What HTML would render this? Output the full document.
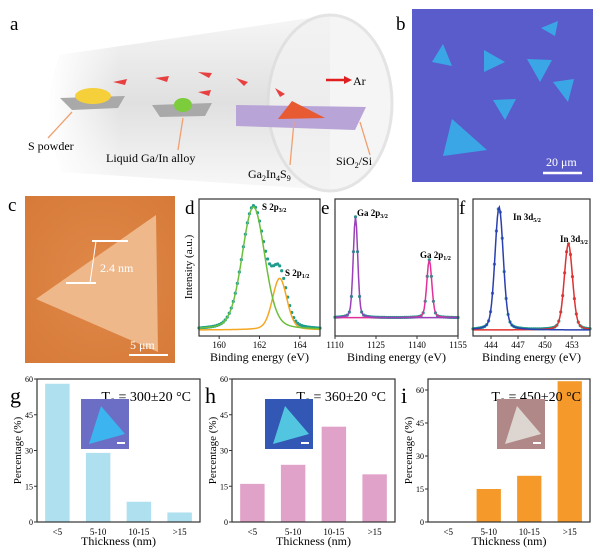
<!DOCTYPE html>
<html><head><meta charset="utf-8"><style>
html,body{margin:0;padding:0;background:#fff}
svg{display:block;font-family:"Liberation Serif",serif}
</style></head><body>
<svg id="fig" width="600" height="552" viewBox="0 0 600 552" xmlns="http://www.w3.org/2000/svg">
<defs>
<linearGradient id="tube" x1="0" y1="0" x2="0" y2="1">
<stop offset="0" stop-color="#f6f6f6"/><stop offset="0.5" stop-color="#e0e0e0"/><stop offset="1" stop-color="#f8f8f8"/></linearGradient>
<linearGradient id="tubeh" x1="0" y1="0" x2="1" y2="0">
<stop offset="0" stop-color="#fff" stop-opacity="1"/><stop offset="0.25" stop-color="#fff" stop-opacity="0"/></linearGradient>
<radialGradient id="afm" cx="0.5" cy="0.5" r="0.7"><stop offset="0" stop-color="#e0894a"/><stop offset="1" stop-color="#d67a38"/></radialGradient>
</defs>
<!-- Panel a -->
<g>
<text x="10" y="30" font-size="19">a</text>
<path d="M60,55 Q40,110 62,172 L330,190 L330,15 Z" fill="url(#tube)"/>
<path d="M60,55 Q40,110 62,172 L330,190 L330,15 Z" fill="url(#tubeh)"/>
<ellipse cx="330" cy="103" rx="62" ry="88" fill="#f2f2f2" stroke="#dcdcdc" stroke-width="3" opacity="0.75"/>
<path d="M60,98 L125,96 L118,108 L72,110 Z" fill="#a9a9a9"/>
<ellipse cx="93" cy="96" rx="18" ry="8" fill="#f5d03a"/>
<path d="M152,105 L212,103 L205,116 L160,117 Z" fill="#a9a9a9"/>
<ellipse cx="183" cy="105" rx="9" ry="7" fill="#7ccc3c"/>
<path d="M236,105 L366,107 L355,130 L236,126 Z" fill="#b8a4d6"/>
<path d="M278,119 L292,101 L325,118 Z" fill="#e85a32"/>
<g fill="#e84040">
<path d="M113,82 l14,-3 l-2,6 z"/><path d="M155,78 l14,-2 l-2,6 z"/><path d="M198,72 l14,1 l-3,5 z"/><path d="M236,78 l12,4 l-4,4 z"/><path d="M198,92 l13,-2 l-2,6 z"/><path d="M275,88 l10,6 l-5,3 z"/></g>
<line x1="326" y1="80" x2="346" y2="80" stroke="#e02020" stroke-width="2.5"/>
<path d="M344,76 l8,4 l-8,4 z" fill="#e02020"/>
<text x="353" y="85" font-size="12">Ar</text>
<g stroke="#f0a070" stroke-width="1.3">
<line x1="72" y1="112" x2="48" y2="138"/><line x1="183" y1="118" x2="178" y2="150"/><line x1="294" y1="122" x2="290" y2="165"/><line x1="360" y1="122" x2="370" y2="155"/></g>
<text x="28" y="150" font-size="12">S powder</text>
<text x="106" y="162" font-size="12">Liquid Ga/In alloy</text>
<text x="248" y="178" font-size="12">Ga<tspan font-size="8" dy="3">2</tspan><tspan dy="-3">In</tspan><tspan font-size="8" dy="3">4</tspan><tspan dy="-3">S</tspan><tspan font-size="8" dy="3">9</tspan></text>
<text x="336" y="165" font-size="12">SiO<tspan font-size="8" dy="3">2</tspan><tspan dy="-3">/Si</tspan></text>
</g>
<!-- Panel b -->
<g>
<rect x="412" y="9" width="181" height="173" fill="#5a5ccb"/>
<text x="396" y="30" font-size="19">b</text>
<g fill="#3ba6e6">
<path d="M432,62 L443,44 L452,66 Z"/><path d="M484,50 L505,62 L484,72 Z"/><path d="M527,59 L552,60 L540,82 Z"/><path d="M553,82 L574,79 L568,102 Z"/><path d="M493,100 L516,99 L505,120 Z"/><path d="M443,156 L452,119 L487,150 Z"/><path d="M541,28 L558,21 L555,36 Z"/></g>
<line x1="543" y1="173" x2="582" y2="173" stroke="#fff" stroke-width="2.5"/>
<text x="546" y="166" font-size="12" fill="#fff">20 μm</text>
</g>
<!-- Panel c -->
<g>
<text x="8" y="211" font-size="19">c</text>
<rect x="25" y="196" width="150" height="167" fill="url(#afm)"/>
<path d="M36,299 L156,215 L158,352 Z" fill="#efb88a"/>
<line x1="92" y1="241" x2="128" y2="241" stroke="#fff" stroke-width="2"/>
<line x1="66" y1="283" x2="96" y2="283" stroke="#fff" stroke-width="2"/>
<line x1="90" y1="283" x2="96" y2="241" stroke="#fff" stroke-width="1"/>
<text x="100" y="272" font-size="12" fill="#fff">2.4 nm</text>
<line x1="129" y1="355" x2="168" y2="355" stroke="#fff" stroke-width="2"/>
<text x="130" y="349" font-size="12" fill="#fff">5 μm</text>
</g>
<g id="xps"></g>
<g id="bars"></g>
</svg>
<script>
const NS="http://www.w3.org/2000/svg";
function mk(p,t,a,txt){const e=document.createElementNS(NS,t);for(const k in a)e.setAttribute(k,a[k]);if(txt!==undefined)e.textContent=txt;p.appendChild(e);return e;}
// XPS peak data
const dTicks=[160,162,164];
const dCenters=[161.7,163.0];
const dHeights=[1.0,0.42];
const dWidths=[0.55,0.35];
const eTicks=[1110,1125,1140,1155];
const eCenters=[1117.5,1144.5];
const eHeights=[0.82,0.47];
const eWidths=[0.8,0.9];
const fTicks=[444,447,450,453];
const fCenters=[444.9,452.6];
const fHeights=[1.0,0.7];
const fWidths=[0.45,0.45];
// Histogram data
const thicknessCats=["<5","5-10","10-15",">15"];
const gValues=[58,29,8.5,4];
const hValues=[16,24,40,20];
const iValues=[0,15,21,64];
const yTicks=[0,15,30,45,60];

const xps=document.getElementById('xps');
function xpsPanel(o){
  const g=mk(xps,'g',{});
  
  
  const L=o.x0,R=o.x1,T=199,B=336;
  const sx=v=>L+(v-o.min)/(o.max-o.min)*(R-L);
  const sy=v=>B-6-v*(B-T-14);
  const gau=(x,i)=>{const z=(x-o.c[i])/o.w[i];return o.h[i]*(0.8*Math.exp(-0.5*z*z)+0.2/(1+z*z/2));};
  const n=120;let p0=[],p1=[];
  for(let k=0;k<=n;k++){const x=o.min+(o.max-o.min)*k/n;const b=o.base;
    p0.push(sx(x)+','+sy(b+gau(x,0)));p1.push(sx(x)+','+sy(b+gau(x,1)));}
  for(let k=0;k<=n;k+=2){const x=o.min+(o.max-o.min)*k/n;mk(g,'circle',{cx:sx(x),cy:sy(o.base+gau(x,0)+gau(x,1)),r:1.6,fill:'#1f9c8c'});}
  mk(g,'polyline',{points:p1.join(' '),fill:'none',stroke:o.c2,'stroke-width':1.5});
  mk(g,'polyline',{points:p0.join(' '),fill:'none',stroke:o.c1,'stroke-width':1.5});
  mk(g,'rect',{x:L,y:T,width:R-L,height:B-T,fill:'none',stroke:'#333','stroke-width':1.2});
  o.ticks.forEach(t=>{mk(g,'line',{x1:sx(t),x2:sx(t),y1:B,y2:B+3,stroke:'#333'});
    const tl=mk(g,'text',{x:sx(t),y:B+12,'font-size':9,'text-anchor':'middle'},t);
    });
  const xt=mk(g,'text',{x:(L+R)/2,y:B+25,'font-size':12,'text-anchor':'middle'},'Binding energy (eV)');
  
  const lb=mk(g,'text',{x:L-14,y:T+15,'font-size':19},o.id);
  
  o.labels.forEach(l=>{const t=mk(g,'text',{x:l[0],y:l[1],'font-size':9,'font-weight':'bold'},l[2]);
    mk(t,'tspan',{'font-size':6,dy:2},l[3]);
    });
}
xpsPanel({id:'d',x0:199,x1:320,min:159,max:165,ticks:dTicks,c:dCenters,h:dHeights,w:dWidths,base:0.0,c1:'#6cbf3c',c2:'#f5a623',labels:[[262,210,'S 2p','3/2'],[285,276,'S 2p','1/2']]});
xpsPanel({id:'e',x0:335,x1:458,min:1110,max:1155,ticks:eTicks,c:eCenters,h:eHeights,w:eWidths,base:0.1,c1:'#9a40b8',c2:'#e0309a',labels:[[357,216,'Ga 2p','3/2'],[420,258,'Ga 2p','1/2']]});
xpsPanel({id:'f',x0:473,x1:590,min:442,max:455,ticks:fTicks,c:fCenters,h:fHeights,w:fWidths,base:0.0,c1:'#2a3fb0',c2:'#e03030',labels:[[513,220,'In 3d','5/2'],[560,242,'In 3d','3/2']]});
const yl=mk(xps,'text',{transform:'translate(192,267) rotate(-90)','font-size':11,'text-anchor':'middle'},'Intensity (a.u.)');


const bars=document.getElementById('bars');
function barPanel(o){
  const g=mk(bars,'g',{});
  
  
  const L=o.x0,R=o.x1,T=379,B=522;
  const sy=v=>B-v/o.ymax*(B-T);
  const bw=(R-L)/thicknessCats.length;
  o.vals.forEach((v,i)=>{const r=mk(g,'rect',{x:L+bw*i+bw*0.2,y:sy(v),width:bw*0.6,height:B-sy(v),fill:o.col});
    
    const tl=mk(g,'text',{x:L+bw*(i+0.5),y:B+13,'font-size':9,'text-anchor':'middle'},thicknessCats[i]);
    });
  mk(g,'rect',{x:L,y:T,width:R-L,height:B-T,fill:'none',stroke:'#333','stroke-width':1.2});
  yTicks.forEach(t=>{mk(g,'line',{x1:L-3,x2:L,y1:sy(t),y2:sy(t),stroke:'#333'});
    const tl=mk(g,'text',{x:L-4,y:sy(t)+3,'font-size':8,'text-anchor':'end'},t);
    });
  const xt=mk(g,'text',{x:(L+R)/2,y:545,'font-size':12,'text-anchor':'middle'},'Thickness (nm)');
  
  const yt=mk(g,'text',{transform:`translate(${L-16},${(T+B)/2}) rotate(-90)`,'font-size':11,'text-anchor':'middle'},'Percentage (%)');
  
  const lb=mk(g,'text',{x:L-27,y:T+24,'font-size':22},o.id);
  
  const tt=mk(g,'text',{x:R-9,y:T+22,'font-size':14,'text-anchor':'end'},'T');
  mk(tt,'tspan',{'font-size':9,dy:4},'S');mk(tt,'tspan',{dy:-4},' = '+o.temp+'±20 °C');
  
  const ix=o.inset[0],iy=o.inset[1];
  const ins=mk(g,'g',{});
  
  mk(ins,'rect',{x:ix,y:iy,width:48,height:50,fill:o.ibg});
  mk(ins,'path',{d:`M${ix+8},${iy+45} L${ix+20},${iy+7} L${ix+44},${iy+35} Z`,fill:o.ifg});
  mk(ins,'line',{x1:ix+36,x2:ix+44,y1:iy+44,y2:iy+44,stroke:'#fff','stroke-width':2});
}
barPanel({id:'g',x0:37,x1:200,ymax:60,vals:gValues,col:'#aee0ef',temp:'300',inset:[81,399],ibg:'#6b6ec4',ifg:'#3cb4f0'});
barPanel({id:'h',x0:232,x1:395,ymax:60,vals:hValues,col:'#e1a2c9',temp:'360',inset:[265,399],ibg:'#3357b5',ifg:'#52c6e0'});
barPanel({id:'i',x0:428,x1:590,ymax:65,vals:iValues,col:'#f59a2a',temp:'450',inset:[497,399],ibg:'#b08888',ifg:'#ddd6d0'});
</script>
</body></html>
